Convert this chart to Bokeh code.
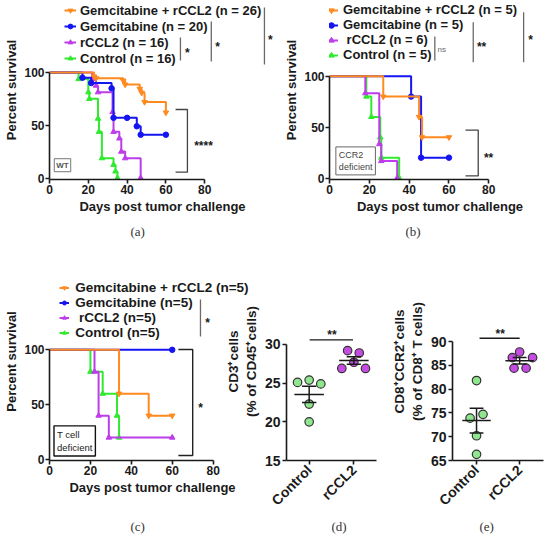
import numpy as np
from math import pi
from bokeh.plotting import figure
from bokeh.models import Legend, LegendItem, Label, Range1d, FixedTicker, Title
from bokeh.layouts import row, column
from bokeh.embed import file_html
from bokeh.resources import INLINE

# ---------------- data ----------------
# (a) WT mice: Kaplan-Meier steps (days, percent survival)
a_labels = ["Gemcitabine + rCCL2 (n = 26)", "Gemcitabine (n = 20)", "rCCL2 (n = 16)", "Control (n = 16)"]
a_gr_days = [0, 23, 24, 38, 39, 46.5, 47.5, 49, 60]
a_gr_surv = [100, 96.2, 94.5, 92.3, 88.5, 84.6, 80.8, 72, 62]
a_gem_days = [0, 17, 21.5, 32, 33, 40, 45, 47, 60]
a_gem_surv = [100, 95, 90, 85, 57, 57, 49, 41, 41]
a_rccl2_days = [0, 22, 24, 25, 32.5, 33, 36, 37, 39, 47]
a_rccl2_surv = [100, 93.75, 87.5, 81.25, 62.5, 43.75, 37.5, 25, 18.75, 0]
a_ctrl_days = [0, 15, 20, 20.5, 25, 25.5, 27, 33, 34, 35]
a_ctrl_surv = [100, 93.75, 81.25, 75, 56.25, 43.75, 18.75, 12.5, 6.25, 0]

# (b) CCR2 deficient mice
b_labels = ["Gemcitabine + rCCL2 (n = 5)", "Gemcitabine (n = 5)", " rCCL2 (n = 6)", "Control (n = 5)"]
b_gr_days = [0, 27, 45, 46.5, 60]
b_gr_surv = [100, 80, 60, 40, 40]
b_gem_days = [0, 41, 46, 60]
b_gem_surv = [100, 80, 20, 20]
b_rccl2_days = [0, 18, 25, 26, 34]
b_rccl2_surv = [100, 83.3, 33.3, 16.7, 0]
b_ctrl_days = [0, 18.5, 21, 25.5, 26, 35]
b_ctrl_surv = [100, 80, 60, 40, 20, 0]

# (c) T cell deficient mice
c_labels = ["Gemcitabine + rCCL2 (n=5)", "Gemcitabine (n=5)", " rCCL2 (n=5)", "Control (n=5)"]
c_gr_days = [0, 34, 48.5, 60]
c_gr_surv = [100, 60, 40, 40]
c_gem_days = [0, 60]
c_gem_surv = [100, 100]
c_rccl2_days = [0, 22, 24, 29, 60]
c_rccl2_surv = [100, 80, 40, 20, 20]
c_ctrl_days = [0, 20, 26, 33, 34]
c_ctrl_surv = [100, 80, 60, 40, 20]

surv_xticks = [0, 20, 40, 60, 80]
surv_yticks = [0, 50, 100]

# (d) CD3+ cells (% of CD45+ cells)
groups = ["Control", "rCCL2"]
d_ctrl = [25.1, 25.4, 24.9, 22.3, 20.0]
d_rccl2 = [29.2, 28.9, 26.9, 27.7, 26.9]
d_yticks = [15, 20, 25, 30]
# (e) CD8+CCR2+ cells (% of CD8+ T cells)
e_ctrl = [81.8, 73.9, 74.7, 70.2, 66.3]
e_rccl2 = [87.8, 86.6, 86.6, 84.4, 84.4]
e_yticks = [65, 70, 75, 80, 85, 90]

# horizontal scatter (jitter) of the dots, in category units
d_ctrl_dx = [-0.26, 0, 0.26, 0, 0]
d_rccl2_dx = [-0.14, 0.12, -0.27, 0, 0.26]
e_ctrl_dx = [0, -0.15, 0.15, 0, 0]
e_rccl2_dx = [0, -0.17, 0.3, -0.13, 0.15]

# ---------------- style ----------------
FONT = "Liberation Sans"
SERIF = "Liberation Serif"
INK = "#1a1a1a"
GRAY = "#6a6a6a"
COL = {"gr": "#FF8A1F", "gem": "#1515F2", "rccl2": "#BD3DEB", "ctrl": "#30EA30"}
MRK = {"gr": "inverted_triangle", "gem": "circle", "rccl2": "triangle", "ctrl": "triangle"}
ORDER_LEGEND = ["gr", "gem", "rccl2", "ctrl"]


def make_fig(w, h, xr, yr, left, right, bottom, **kw):
    p = figure(width=w, height=h, x_range=Range1d(*xr), y_range=Range1d(*yr), title=None,
               output_backend="svg", toolbar_location=None,
               min_border_left=left, min_border_right=right, min_border_top=0, min_border_bottom=bottom,
               **kw)
    p.outline_line_color = None
    p.grid.visible = False
    for ax in (p.xaxis[0], p.yaxis[0]):
        ax.axis_line_width = 1.6
        ax.axis_line_color = INK
        ax.major_tick_line_width = 1.6
        ax.major_tick_line_color = INK
        ax.major_tick_out = 4
        ax.major_tick_in = 0
        ax.minor_tick_line_color = None
        ax.major_label_text_font = FONT
        ax.major_label_text_font_style = "bold"
        ax.major_label_text_color = INK
        ax.axis_label_text_font = FONT
        ax.axis_label_text_font_style = "bold"
        ax.axis_label_text_color = INK
    return p


def add_text(p, x, y, text, size="13px", style="bold", color=INK, align="center",
             baseline="middle", font=FONT, **kw):
    p.add_layout(Label(x=x, y=y, text=text, text_font=font, text_font_size=size,
                       text_font_style=style, text_color=color, text_align=align,
                       text_baseline=baseline, **kw))


def add_caption(p, text, offset, standoff):
    p.add_layout(Title(text=text, align="left", offset=offset, standoff=standoff,
                       vertical_align="middle", text_font=SERIF, text_font_size="13px",
                       text_font_style="normal", text_color="#333"), "below")


def survival_panel(w, h, left, right, bottom, xr, yr, curves, labels, leg_loc, leg_h, leg_font,
                   glyph_w, standoff, **kw):
    p = make_fig(w, h, xr, yr, left, right, bottom, **kw)
    p.xaxis.ticker = FixedTicker(ticks=surv_xticks)
    p.xaxis.bounds = (surv_xticks[0], surv_xticks[-1])
    p.yaxis.ticker = FixedTicker(ticks=surv_yticks)
    p.yaxis.bounds = (yr[0], surv_yticks[-1])
    p.xaxis.axis_label = "Days post tumor challenge"
    p.yaxis.axis_label = "Percent survival"
    for ax in (p.xaxis[0], p.yaxis[0]):
        ax.major_label_text_font_size = "12px"
        ax.axis_label_text_font_size = "13px"
    p.xaxis.major_label_standoff = 1
    p.xaxis.axis_label_standoff = 2
    p.yaxis.major_label_standoff = 1
    p.yaxis.axis_label_standoff = 2
    rends = {}
    for key in ["ctrl", "rccl2", "gem", "gr"]:
        t, s = curves[key]
        ln = p.step(t, s, mode="after", line_color=COL[key], line_width=2)
        sc = p.scatter(t[1:], s[1:], marker=MRK[key], size=5.5, fill_color=COL[key], line_color=COL[key])
        rends[key] = [ln, sc]
    items = [LegendItem(label=lab, renderers=rends[k]) for k, lab in zip(ORDER_LEGEND, labels)]
    leg = Legend(items=items, location=leg_loc, background_fill_alpha=0, border_line_color=None,
                 padding=0, margin=0, spacing=0, label_height=leg_h, glyph_height=leg_h,
                 glyph_width=glyph_w, label_standoff=standoff,
                 label_text_font=FONT, label_text_font_style="bold",
                 label_text_font_size=leg_font, label_text_color=INK)
    p.add_layout(leg)
    return p


# ---------------- (a) ----------------
pa = survival_panel(275, 262, 49, 0, 83, (0, 116.5), (-1.42, 168.2),
                    {"gr": (a_gr_days, a_gr_surv), "gem": (a_gem_days, a_gem_surv),
                     "rccl2": (a_rccl2_days, a_rccl2_surv), "ctrl": (a_ctrl_days, a_ctrl_surv)},
                    a_labels, (15, 112.7), 16, "13px", 12, 4)
pa.line([67.5, 67.5], [133.2, 111.4], line_color=GRAY, line_width=1.3)
pa.line([83.4, 83.4], [148.3, 110.4], line_color=GRAY, line_width=1.3)
pa.line([110.8, 110.8], [161.6, 107.6], line_color=GRAY, line_width=1.3)
add_text(pa, 71.1, 118.0, "*", size="12px")
add_text(pa, 86.6, 124.6, "*", size="12px")
add_text(pa, 113.9, 130.3, "*", size="12px")
pa.line([65, 71.1, 71.1, 65], [64.9, 64.9, 5.5, 5.5], line_color="#444", line_width=1.3)
add_text(pa, 79.4, 30.0, "****", size="12px")
add_text(pa, 6.7, 12.1, "WT", size="8px", color="#555", border_line_color="#777",
         border_line_width=1, background_fill_color="white", padding=2)
add_caption(pa, "(a)", 81, 13)

# ---------------- (b) ----------------
pb = survival_panel(275, 262, 54, 0, 83, (0, 111), (-1.47, 174.4),
                    {"gr": (b_gr_days, b_gr_surv), "gem": (b_gem_days, b_gem_surv),
                     "rccl2": (b_rccl2_days, b_rccl2_surv), "ctrl": (b_ctrl_days, b_ctrl_surv)},
                    b_labels, (-5, 117), 14, "13px", 14, 5)
pb.line([52.9, 52.9], [139.0, 115.4], line_color=GRAY, line_width=1.3)
add_text(pb, 54.3, 126.2, "ns", size="8px", style="normal", color=GRAY, align="left")
pb.line([72.2, 72.2], [153.0, 113.8], line_color=GRAY, line_width=1.3)
add_text(pb, 76.4, 129.2, "**", size="12px")
pb.line([97.5, 97.5], [162.9, 113.8], line_color=GRAY, line_width=1.3)
add_text(pb, 101, 135.1, "*", size="12px")
pb.line([68.3, 74.7, 74.7, 68.3], [47, 47, 2, 2], line_color="#444", line_width=1.3)
add_text(pb, 79.9, 20, "**", size="12px")
add_text(pb, 3.2, 16.8, "CCR2\ndeficient", size="9px", style="normal", color="#444", align="left",
         border_line_color="#666", border_line_width=1, background_fill_color="white", padding=3)
add_caption(pb, "(b)", 76, 13)

# ---------------- (c) ----------------
# wider canvas so its legend can reach under the transparent left part of panel (d)
pc = survival_panel(255, 278, 49, 0, 80, (0, 100.7), (-0.9, 179.6),
                    {"gr": (c_gr_days, c_gr_surv), "gem": (c_gem_days, c_gem_surv),
                     "rccl2": (c_rccl2_days, c_rccl2_surv), "ctrl": (c_ctrl_days, c_ctrl_surv)},
                    c_labels, (10.3, 120), 15, "13.5px", 10, 6, margin=(0, -33, 0, 0))
pc.xaxis.bounds = (0, 80)
pc.line([73.8, 73.8], [145.9, 112.1], line_color=GRAY, line_width=1.3)
add_text(pc, 77.3, 124.9, "*", size="12px")
pc.line([63, 70, 70, 63], [100.3, 100.3, 3.6, 3.6], line_color="#222", line_width=1.4)
add_text(pc, 73.8, 47.4, "*", size="12px")
add_text(pc, 2.2, 16.9, "T cell\ndeficient", size="9.5px", style="normal", color="#222", align="left",
         border_line_color="#111", border_line_width=1.4, background_fill_color="white", padding=3)
add_caption(pc, "\n(c)", 81, 10)


# ---------------- (d), (e) ----------------
def dot_panel(w, h, left, right, bottom, xr, yr, xbound, yticks, ylabel, ctrl, ctrl_dx, trt, trt_dx, **kw):
    p = make_fig(w, h, xr, yr, left, right, bottom, **kw)
    p.xaxis.ticker = FixedTicker(ticks=[1, 2])
    p.xaxis.major_label_overrides = {1: groups[0], 2: groups[1]}
    p.xaxis.major_label_orientation = pi / 4
    p.xaxis.bounds = (xr[0], xbound)
    p.yaxis.ticker = FixedTicker(ticks=yticks)
    p.yaxis.bounds = (yticks[0], yticks[-1])
    p.yaxis.axis_label = ylabel
    for ax in (p.xaxis[0], p.yaxis[0]):
        ax.major_label_text_font_size = "14px"
    p.yaxis.axis_label_text_font_size = "13.5px"
    p.yaxis.major_label_standoff = 2
    p.yaxis.axis_label_standoff = 3
    p.xaxis.major_label_standoff = 3
    p.scatter([1 + d for d in ctrl_dx], ctrl, size=8.5, fill_color="#8FE68F", line_color="#333",
              line_width=1.2)
    p.scatter([2 + d for d in trt_dx], trt, size=8.5, fill_color="#C64BE2", line_color="#333",
              line_width=1.2)
    for xc, vals in ((1, ctrl), (2, trt)):
        v = np.asarray(vals, dtype=float)
        m = v.mean()
        se = v.std(ddof=1) / np.sqrt(len(v))
        p.segment(x0=[xc - 0.33, xc, xc - 0.16, xc - 0.16], y0=[m, m - se, m + se, m - se],
                  x1=[xc + 0.33, xc, xc + 0.16, xc + 0.16], y1=[m, m + se, m + se, m - se],
                  line_color=INK, line_width=1.5)
    return p


pd_ = dot_panel(166, 278, 60, 12, 80, (0.493, 2.506), (15, 40.6), 2.506, d_yticks,
                "CD3\u207acells\n(% of CD45\u207acells)", d_ctrl, d_ctrl_dx, d_rccl2, d_rccl2_dx,
                border_fill_color=None, background_fill_color=None)
pd_.line([1.01, 1.98], [30.6, 30.6], line_color=INK, line_width=1.4)
add_text(pd_, 1.51, 31.2, "**", size="12px")
add_caption(pd_, "(d)", 45, 0)

pe = dot_panel(162, 278, 61, 0, 80, (0.4424, 2.716), (65, 106.6), 2.55, e_yticks,
               "CD8\u207aCCR2\u207acells\n(% of CD8\u207a T cells)", e_ctrl, e_ctrl_dx, e_rccl2, e_rccl2_dx)
pe.line([1.07, 2.0], [90.69, 90.69], line_color=INK, line_width=1.4)
add_text(pe, 1.55, 91.53, "**", size="12px")
add_caption(pe, "(e)", 27, 0)

layout = column(row(pa, pb), row(pc, pd_, pe))
open("out.html", "w").write(file_html(layout, INLINE))
